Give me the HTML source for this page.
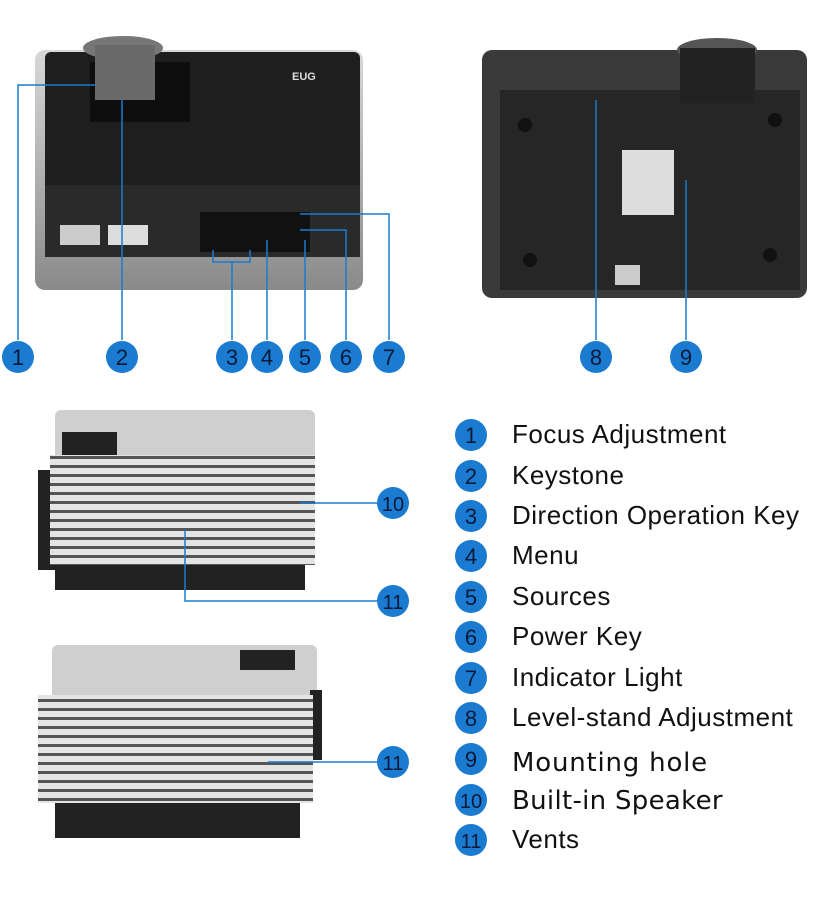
<!DOCTYPE html>
<html><head><style>
body{margin:0;background:#fff;width:828px;height:907px;overflow:hidden;font-family:"Liberation Sans",sans-serif}
</style></head><body>
<svg width="828" height="907" viewBox="0 0 828 907" xmlns="http://www.w3.org/2000/svg">
<defs>
<linearGradient id="sil" x1="0" y1="0" x2="0" y2="1"><stop offset="0" stop-color="#d8d8d8"/><stop offset="1" stop-color="#8a8a8a"/></linearGradient>
<pattern id="fins" width="6" height="9" patternUnits="userSpaceOnUse"><rect width="6" height="9" fill="#e4e4e4"/><rect y="6" width="6" height="3" fill="#555"/></pattern>
</defs>
<rect x="35" y="50" width="328" height="240" rx="10" fill="url(#sil)"/>
<rect x="45" y="52" width="315" height="205" rx="6" fill="#1e1e1e"/>
<rect x="45" y="185" width="315" height="72" fill="#2a2a2a"/>
<rect x="90" y="62" width="100" height="60" fill="#0e0e0e"/>
<ellipse cx="123" cy="48" rx="40" ry="12" fill="#777"/>
<rect x="95" y="45" width="60" height="55" fill="#6a6a6a"/>
<rect x="200" y="212" width="110" height="40" fill="#111"/>
<rect x="60" y="225" width="40" height="20" fill="#ccc"/>
<rect x="108" y="225" width="40" height="20" fill="#ddd"/>
<text x="292" y="80" fill="#ddd" font-size="11" font-weight="bold">EUG</text>
<rect x="482" y="50" width="325" height="248" rx="10" fill="#3a3a3a"/>
<rect x="500" y="90" width="300" height="200" fill="#262626"/>
<ellipse cx="717" cy="50" rx="40" ry="12" fill="#555"/>
<rect x="680" y="48" width="75" height="55" fill="#222"/>
<rect x="622" y="150" width="52" height="65" fill="#ddd"/>
<rect x="615" y="265" width="25" height="20" fill="#ccc"/>
<circle cx="525" cy="125" r="7" fill="#111"/><circle cx="775" cy="120" r="7" fill="#111"/>
<circle cx="530" cy="260" r="7" fill="#111"/><circle cx="770" cy="255" r="7" fill="#111"/>
<rect x="55" y="410" width="260" height="50" rx="6" fill="#cfcfcf"/>
<rect x="62" y="432" width="55" height="25" fill="#222"/>
<rect x="38" y="470" width="22" height="100" fill="#222"/>
<rect x="50" y="455" width="265" height="110" fill="url(#fins)"/>
<rect x="55" y="565" width="250" height="25" fill="#222"/>
<rect x="52" y="645" width="265" height="55" rx="6" fill="#cfcfcf"/>
<rect x="240" y="650" width="55" height="20" fill="#222"/>
<rect x="310" y="690" width="12" height="70" fill="#222"/>
<rect x="38" y="695" width="275" height="108" fill="url(#fins)"/>
<rect x="55" y="803" width="245" height="35" fill="#222"/>
<g stroke="#1a7bd0" stroke-width="1.5" fill="none">
<polyline points="18,340 18,85 95,85"/>
<line x1="122" y1="340" x2="122" y2="100"/>
<polyline points="213,250 213,262 250,262 250,250"/><line x1="232" y1="262" x2="232" y2="340"/>
<line x1="267" y1="340" x2="267" y2="240"/>
<line x1="305" y1="340" x2="305" y2="240"/>
<polyline points="346,340 346,230 300,230"/>
<polyline points="389,340 389,214 300,214"/>
<line x1="596" y1="340" x2="596" y2="100"/>
<line x1="686" y1="340" x2="686" y2="180"/>
<line x1="300" y1="503" x2="377" y2="503"/>
<polyline points="185,530 185,601 377,601"/>
<line x1="268" y1="762" x2="377" y2="762"/>
</g>
<g fill="#1a7bd0">
<circle cx="18" cy="357" r="16"/><circle cx="122" cy="357" r="16"/><circle cx="232" cy="357" r="16"/>
<circle cx="267" cy="357" r="16"/><circle cx="305" cy="357" r="16"/><circle cx="346" cy="357" r="16"/>
<circle cx="389" cy="357" r="16"/><circle cx="596" cy="357" r="16"/><circle cx="686" cy="357" r="16"/>
<circle cx="393" cy="503" r="16"/><circle cx="393" cy="601" r="16"/><circle cx="393" cy="762" r="16"/>
<circle cx="471" cy="435" r="16"/><circle cx="471" cy="476" r="16"/><circle cx="471" cy="516" r="16"/>
<circle cx="471" cy="556" r="16"/><circle cx="471" cy="597" r="16"/><circle cx="471" cy="637" r="16"/>
<circle cx="471" cy="678" r="16"/><circle cx="471" cy="718" r="16"/><circle cx="471" cy="759" r="16"/>
<circle cx="471" cy="800" r="16"/><circle cx="471" cy="840" r="16"/>
</g>
<g fill="#0a1a3a" font-size="22" text-anchor="middle">
<text x="18" y="365">1</text><text x="122" y="365">2</text><text x="232" y="365">3</text>
<text x="267" y="365">4</text><text x="305" y="365">5</text><text x="346" y="365">6</text>
<text x="389" y="365">7</text><text x="596" y="365">8</text><text x="686" y="365">9</text>
<text x="393" y="511" font-size="20">10</text><text x="393" y="609" font-size="20">11</text><text x="393" y="770" font-size="20">11</text>
<text x="471" y="443">1</text><text x="471" y="484">2</text><text x="471" y="524">3</text>
<text x="471" y="564">4</text><text x="471" y="605">5</text><text x="471" y="645">6</text>
<text x="471" y="686">7</text><text x="471" y="726">8</text><text x="471" y="767">9</text>
<text x="471" y="808" font-size="20">10</text><text x="471" y="848" font-size="20">11</text>
</g>
<g fill="#111" font-size="26" letter-spacing="0.5">
<text x="512" y="443">Focus Adjustment</text>
<text x="512" y="484">Keystone</text>
<text x="512" y="524">Direction Operation Key</text>
<text x="512" y="564">Menu</text>
<text x="512" y="605">Sources</text>
<text x="512" y="645">Power Key</text>
<text x="512" y="686">Indicator Light</text>
<text x="512" y="726">Level-stand Adjustment</text>
<text x="512" y="771" font-family="DejaVu Sans" font-size="26" letter-spacing="0.8">Mounting hole</text>
<text x="512" y="809" font-family="DejaVu Sans" font-size="26" letter-spacing="0.3">Built-in Speaker</text>
<text x="512" y="848">Vents</text>
</g>
</svg>
</body></html>
